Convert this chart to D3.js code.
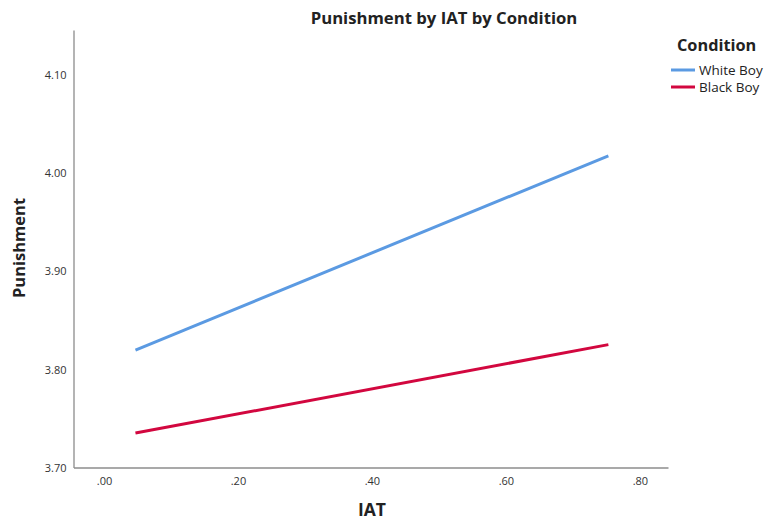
<!DOCTYPE html>
<html>
<head>
<meta charset="utf-8">
<script src="https://cdn.jsdelivr.net/npm/d3@7"></script>
<style>
  html, body { margin: 0; padding: 0; background: #fff; }
  svg { display: block; }
  text { font-family: "Open Sans", "DejaVu Sans", sans-serif; fill: #222; }
</style>
</head>
<body>
<svg id="chart" width="765" height="521"></svg>
<script>
// Fitted lines of Punishment on IAT, per condition (end points of each segment)
const conditions = ["White Boy", "Black Boy"];
const iatValues = [0.047, 0.753];
const whiteBoyPunishment = [3.8195, 4.017];
const blackBoyPunishment = [3.735, 3.825];
const seriesValues = [whiteBoyPunishment, blackBoyPunishment];
const seriesColors = ["#5b9ae2", "#d2073f"];

const xTicks = [0, 0.2, 0.4, 0.6, 0.8];
const xTickLabels = [".00", ".20", ".40", ".60", ".80"];
const yTicks = [3.7, 3.8, 3.9, 4.0, 4.1];
const yTickLabels = ["3.70", "3.80", "3.90", "4.00", "4.10"];

const svg = d3.select("#chart");
const plotLeft = 73.5, plotRight = 668, plotTop = 30, plotBottom = 467.5;

const x = d3.scaleLinear().domain([-0.0455, 0.842]).range([plotLeft, plotRight]);
const y = d3.scaleLinear().domain([3.7, 4.145]).range([plotBottom, plotTop]);

// Axes: plain grey lines, no tick marks
const xAxis = d3.axisBottom(x).tickValues(xTicks)
  .tickFormat((d, i) => xTickLabels[i]).tickSize(0).tickPadding(10);
const yAxis = d3.axisLeft(y).tickValues(yTicks)
  .tickFormat((d, i) => yTickLabels[i]).tickSize(0).tickPadding(7);

const gx = svg.append("g").attr("transform", `translate(0,${plotBottom})`).call(xAxis);
const gy = svg.append("g").attr("transform", `translate(${plotLeft},0)`).call(yAxis);
[gx, gy].forEach(g => {
  g.select(".domain").attr("stroke", "#8c8c8c").attr("stroke-width", 1.3);
  g.selectAll("text").style("font-size", "11px").style("fill", "#333")
    .style("font-family", "\"Open Sans\", sans-serif");
});
gy.selectAll("text").attr("dy", "0.35em");

// Lines
const line = d3.line().x((d, i) => x(iatValues[i])).y(d => y(d));
seriesValues.forEach((vals, k) => {
  svg.append("path").datum(vals)
    .attr("d", line)
    .attr("fill", "none")
    .attr("stroke", seriesColors[k])
    .attr("stroke-width", 3);
});

// Title and axis titles
svg.append("text").attr("x", 444).attr("y", 24).attr("text-anchor", "middle")
  .style("font-size", "16.7px").style("font-weight", "bold").text("Punishment by IAT by Condition");
svg.append("text").attr("x", 372).attr("y", 516).attr("text-anchor", "middle")
  .style("font-size", "17.5px").style("font-weight", "bold").text("IAT");
svg.append("text").attr("transform", "translate(25,248) rotate(-90)").attr("text-anchor", "middle")
  .style("font-size", "16.5px").style("font-weight", "bold").text("Punishment");

// Legend
const lg = svg.append("g");
lg.append("text").attr("x", 677).attr("y", 51)
  .style("font-size", "16.3px").style("font-weight", "bold").text("Condition");
conditions.forEach((c, i) => {
  const yy = 70 + i * 17;
  lg.append("line").attr("x1", 671).attr("x2", 695).attr("y1", yy).attr("y2", yy)
    .attr("stroke", seriesColors[i]).attr("stroke-width", 3);
  lg.append("text").attr("x", 699).attr("y", yy).attr("dy", "0.35em")
    .style("font-size", "13.5px").text(c);
});
</script>
</body>
</html>
